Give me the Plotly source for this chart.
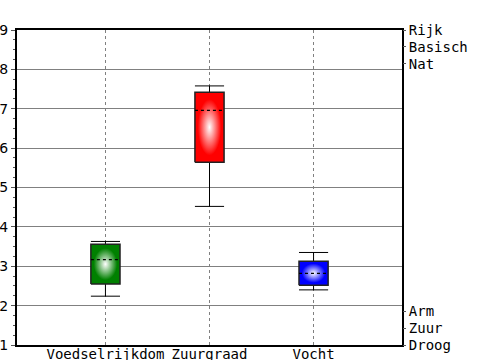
import plotly.graph_objects as go

categories = ["Voedselrijkdom", "Zuurgraad", "Vocht"]
lower = [2.24, 4.52, 2.40]
q1 = [2.55, 5.64, 2.52]
q3 = [3.56, 7.42, 3.13]
upper = [3.63, 7.58, 3.35]
means = [3.17, 6.96, 2.82]
colors = ["#008000", "#ff0000", "#0000ff"]

right_labels = ["Droog", "Zuur", "Arm", "Nat", "Basisch", "Rijk"]
right_vals = [1.0, 1.42, 1.86, 8.14, 8.57, 9.0]

W = 0.14
fig = go.Figure()
for i, cat in enumerate(categories):
    # whiskers
    fig.add_trace(go.Scatter(
        x=[i, i, None, i, i, None, i - W, i + W, None, i - W, i + W],
        y=[lower[i], q1[i], None, q3[i], upper[i], None, lower[i], lower[i], None, upper[i], upper[i]],
        mode="lines", line=dict(color="black", width=1), hoverinfo="skip", showlegend=False))
    # box
    fig.add_trace(go.Scatter(
        x=[i - W, i + W, i + W, i - W, i - W],
        y=[q1[i], q1[i], q3[i], q3[i], q1[i]],
        mode="lines", fill="toself",
        fillgradient=dict(type="radial", colorscale=[[0, "white"], [0.8, colors[i]], [1, colors[i]]]),
        line=dict(color="#222222", width=1.5), hoverinfo="skip", showlegend=False))
    # mean
    fig.add_trace(go.Scatter(
        x=[i - W, i + W], y=[means[i], means[i]], mode="lines",
        line=dict(color="black", width=1.2, dash="3px,3px"), hoverinfo="skip", showlegend=False))

# dummy trace for right axis
fig.add_trace(go.Scatter(x=[None], y=[None], yaxis="y2", showlegend=False))

fig.update_layout(
    width=500, height=360,
    margin=dict(l=17, r=98, t=30, b=15, autoexpand=False),
    paper_bgcolor="white", plot_bgcolor="white",
    showlegend=False, hovermode=False,
    font=dict(family="DejaVu Sans Mono", size=14, color="black"),
    xaxis=dict(
        range=[-0.85, 2.85], tickvals=[0, 1, 2], ticktext=categories,
        showgrid=True, gridcolor="#808080", griddash="3px,3px", gridwidth=1,
        showline=True, linecolor="black", linewidth=2, mirror=True,
        ticks="", zeroline=False, ticklabelstandoff=-5, automargin=False,
    ),
    yaxis=dict(
        range=[1, 9], dtick=1, showgrid=True, gridcolor="#808080", gridwidth=1,
        showline=True, linecolor="black", linewidth=2, mirror=True,
        ticks="outside", ticklen=4, tickcolor="#555555", zeroline=False,
        tickfont=dict(family="DejaVu Sans", size=14), automargin=False,
        ticklabelstandoff=0,
        minor=dict(dtick=0.25, ticks="outside", ticklen=2, tickcolor="#555555", showgrid=False),
    ),
    yaxis2=dict(
        range=[1, 9], overlaying="y", side="right", tickvals=right_vals, ticktext=right_labels,
        showgrid=False, ticks="outside", ticklen=3, tickcolor="#555555", zeroline=False,
        showline=False, tickfont=dict(family="DejaVu Sans Mono", size=14), automargin=False,
        ticklabelstandoff=0,
    ),
)

fig.write_html("out.html", config={"displayModeBar": False},
               post_script="document.body.style.margin='0px';")
